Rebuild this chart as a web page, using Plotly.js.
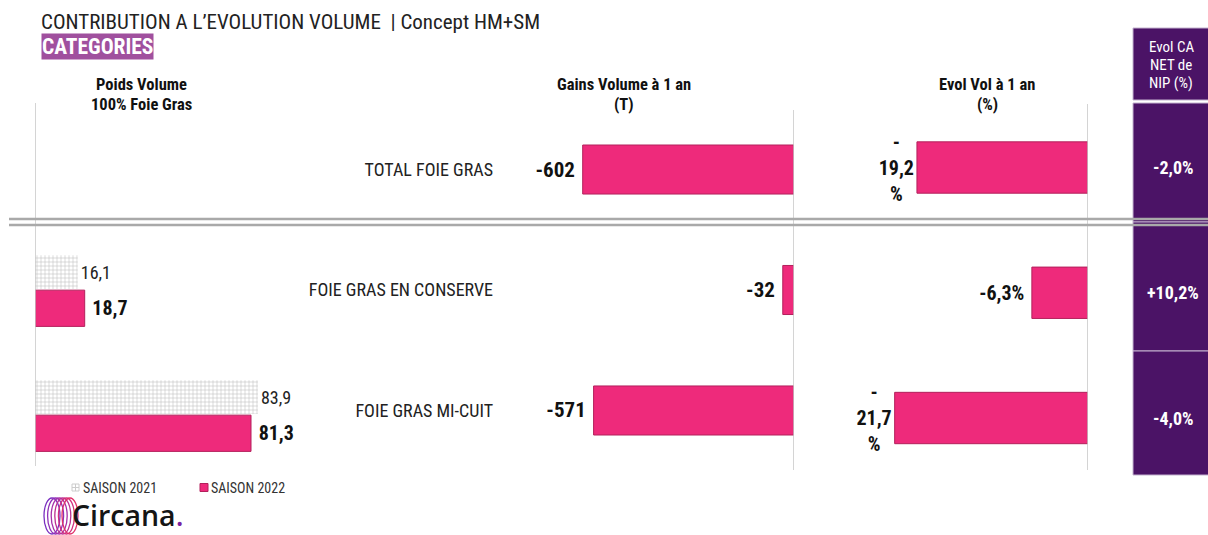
<!DOCTYPE html>
<html>
<head>
<meta charset="utf-8">
<script src="https://cdn.plot.ly/plotly-3.0.1.min.js"></script>
<style>html,body{margin:0;padding:0;background:#fff;}#chart{width:1208px;height:535px;}</style>
</head>
<body>
<div id="chart"></div>
<script>
// ---------- DATA ----------
const categories = ['TOTAL FOIE GRAS', 'FOIE GRAS EN CONSERVE', 'FOIE GRAS MI-CUIT'];
const poidsCategories = ['FOIE GRAS EN CONSERVE', 'FOIE GRAS MI-CUIT'];
const poids2021 = [16.1, 83.9];
const poids2022 = [18.7, 81.3];
const gainsVolume = [-602, -32, -571];
const evolVolume = [-19.2, -6.3, -21.7];
const evolCA = [-2.0, 10.2, -4.0];
const seriesNames = ['SAISON 2021', 'SAISON 2022'];
const headers = [['Poids Volume', '100% Foie Gras'], ['Gains Volume à 1 an', '(T)'], ['Evol Vol à 1 an', '(%)'], ['Evol CA', 'NET de', 'NIP (%)']];
const titleText = 'CONTRIBUTION A L’EVOLUTION VOLUME  | Concept HM+SM';
const subtitleText = 'CATEGORIES';

// ---------- HELPERS ----------
const W = 1208, H = 535;
const px = v => v / W;
const py = v => 1 - v / H;
const FONT = "'Roboto Condensed','Liberation Sans Narrow','DejaVu Sans Condensed',Roboto,sans-serif";
const PINK = '#EE2A7B', PINK_LINE = '#B3205C', PURPLE = '#4B1366';
const NB = '\u00a0';
const fr = (v, d) => v.toFixed(d).replace('.', ',');
const fmtPct = v => {
  const s = fr(v, 1) + '%';
  // narrow PowerPoint label box: long labels wrap onto three lines
  if (s.length > 5) return s.slice(0, 1) + '<br>' + s.slice(1, -1) + '<br>%';
  return s + NB;
};
const fmtSigned = v => (v > 0 ? '+' : '') + fr(v, 1) + '%';

const yDom = [py(470), py(100)];

const traces = [
  {
    type: 'bar', orientation: 'h', name: seriesNames[0],
    x: poids2021, y: poidsCategories, xaxis: 'x', yaxis: 'y',
    offset: -0.275, width: 0.27,
    marker: { color: '#ffffff', line: { width: 0 },
      pattern: { shape: '+', fgcolor: '#bcbcbc', bgcolor: '#ffffff', size: 4, solidity: 0.25 } },
    text: poids2021.map(v => fr(v, 1)), textposition: 'outside', cliponaxis: false, constraintext: 'none',
    textfont: { family: FONT, size: 18, color: '#222' }, hoverinfo: 'skip'
  },
  {
    type: 'bar', orientation: 'h', name: seriesNames[1],
    x: poids2022, y: poidsCategories, xaxis: 'x', yaxis: 'y',
    offset: 0.005, width: 0.29,
    marker: { color: PINK, line: { color: PINK_LINE, width: 1 } },
    text: poids2022.map(v => NB + fr(v, 1)), textposition: 'outside', cliponaxis: false, constraintext: 'none',
    textfont: { family: FONT, size: 20, color: '#111', weight: 'bold' }, hoverinfo: 'skip'
  },
  {
    type: 'bar', orientation: 'h', name: 'Gains',
    x: gainsVolume, y: categories, xaxis: 'x2', yaxis: 'y2',
    width: 0.407,
    marker: { color: PINK, line: { color: PINK_LINE, width: 1 } },
    text: gainsVolume.map(v => String(v) + NB), textposition: 'outside', cliponaxis: false, constraintext: 'none',
    textfont: { family: FONT, size: 21, color: '#111', weight: 'bold' }, hoverinfo: 'skip'
  },
  {
    type: 'bar', orientation: 'h', name: 'Evol',
    x: evolVolume, y: categories, xaxis: 'x3', yaxis: 'y3',
    width: 0.41,
    marker: { color: PINK, line: { color: PINK_LINE, width: 1 } },
    text: evolVolume.map(fmtPct), textposition: 'outside', cliponaxis: false, constraintext: 'none',
    textfont: { family: FONT, size: 20, color: '#111', weight: 'bold' }, hoverinfo: 'skip'
  }
];

const hidden = { visible: false, fixedrange: true };
const catAxis = { type: 'category', categoryorder: 'array', categoryarray: categories, domain: yDom, fixedrange: true };

const shapes = [];
// vertical axis lines
shapes.push({ type: 'line', xref: 'x', yref: 'paper', x0: 0, x1: 0, y0: py(103), y1: py(466), line: { color: '#c6c6c6', width: 1.5 } });
shapes.push({ type: 'line', xref: 'x2', yref: 'paper', x0: 0, x1: 0, y0: py(110), y1: py(470), line: { color: '#c6c6c6', width: 1.5 } });
shapes.push({ type: 'line', xref: 'x3', yref: 'paper', x0: 0, x1: 0, y0: py(104), y1: py(470), line: { color: '#c6c6c6', width: 1.5 } });
// purple column
shapes.push({ type: 'rect', xref: 'paper', yref: 'paper', x0: px(1133), x1: px(1212), y0: py(28), y1: py(100), fillcolor: PURPLE, line: { color: '#c4b3cf', width: 1 }, layer: 'below' });
shapes.push({ type: 'rect', xref: 'paper', yref: 'paper', x0: px(1133), x1: px(1212), y0: py(103), y1: py(222), fillcolor: PURPLE, line: { color: '#c4b3cf', width: 1 }, layer: 'below' });
shapes.push({ type: 'rect', xref: 'paper', yref: 'paper', x0: px(1133), x1: px(1212), y0: py(222), y1: py(351), fillcolor: PURPLE, line: { color: '#c4b3cf', width: 1 }, layer: 'below' });
shapes.push({ type: 'rect', xref: 'paper', yref: 'paper', x0: px(1133), x1: px(1212), y0: py(351), y1: py(475), fillcolor: PURPLE, line: { color: '#c4b3cf', width: 1 }, layer: 'below' });
// double separator
[219, 225].forEach(yy => shapes.push({ type: 'line', xref: 'paper', yref: 'paper', x0: px(9), x1: px(1210), y0: py(yy), y1: py(yy), line: { color: '#a9a9a9', width: 2.5 } }));
// legend icons
shapes.push({ type: 'rect', xref: 'paper', yref: 'paper', x0: px(72), x1: px(79), y0: py(484), y1: py(491), fillcolor: '#ffffff', line: { color: '#cccccc', width: 1 } });
shapes.push({ type: 'line', xref: 'paper', yref: 'paper', x0: px(75.5), x1: px(75.5), y0: py(484), y1: py(491), line: { color: '#cccccc', width: 1 } });
shapes.push({ type: 'line', xref: 'paper', yref: 'paper', x0: px(72), x1: px(79), y0: py(487.5), y1: py(487.5), line: { color: '#cccccc', width: 1 } });
shapes.push({ type: 'rect', xref: 'paper', yref: 'paper', x0: px(200), x1: px(208), y0: py(483.5), y1: py(491.5), fillcolor: PINK, line: { color: PINK_LINE, width: 1 } });
// logo rings
const ringColors = ['#7a2fc0', '#8f30b8', '#a630a8', '#bd3092', '#d2307c', '#e0306a'];
ringColors.forEach((c, i) => shapes.push({ type: 'circle', xref: 'paper', yref: 'paper',
  x0: px(44 + i * 3.6), x1: px(60 + i * 3.6), y0: py(498), y1: py(534), line: { color: c, width: 1.3 }, fillcolor: 'rgba(0,0,0,0)' }));

const ann = [];
ann.push({ xref: 'paper', yref: 'paper', x: px(39), y: py(22), xanchor: 'left', yanchor: 'middle', showarrow: false,
  text: titleText, font: { family: FONT, size: 21, color: '#222' } });
ann.push({ xref: 'paper', yref: 'paper', x: px(41), y: py(47), xanchor: 'left', yanchor: 'middle', showarrow: false,
  text: subtitleText, bgcolor: '#A0509E', borderpad: 0, font: { family: FONT, size: 21.5, color: '#ffffff', weight: 'bold' } });
const headerPos = [[141, 84.5], [624, 84.5], [987, 84.5]];
headerPos.forEach((p, i) => headers[i].forEach((line, j) => ann.push({ xref: 'paper', yref: 'paper', x: px(p[0]), y: py(p[1] + j * 19.5), xanchor: 'center', yanchor: 'middle', showarrow: false,
  borderpad: 0, text: line, font: { family: FONT, size: 16.5, color: '#111', weight: 'bold' } })));
headers[3].forEach((line, j) => ann.push({ xref: 'paper', yref: 'paper', x: px(1171), y: py(46.5 + j * 18.5), xanchor: 'center', yanchor: 'middle', showarrow: false,
  borderpad: 0, text: line, font: { family: FONT, size: 15, color: '#ffffff' } }));
// Evol CA values in the purple column (aligned on the Evol Vol axis rows)
evolCA.forEach((v, i) => ann.push({ xref: 'paper', yref: 'y3', x: px(1173), y: categories[i], xanchor: 'center', yanchor: 'middle', showarrow: false,
  text: fmtSigned(v), font: { family: FONT, size: 18, color: '#ffffff', weight: 'bold' } }));
// legend text
ann.push({ xref: 'paper', yref: 'paper', x: px(81), y: py(487.5), xanchor: 'left', yanchor: 'middle', showarrow: false,
  text: seriesNames[0], font: { family: FONT, size: 14, color: '#333' } });
ann.push({ xref: 'paper', yref: 'paper', x: px(209), y: py(487.5), xanchor: 'left', yanchor: 'middle', showarrow: false,
  text: seriesNames[1], font: { family: FONT, size: 14, color: '#333' } });
// logo text
ann.push({ xref: 'paper', yref: 'paper', x: px(71), y: py(535), xanchor: 'left', yanchor: 'bottom', showarrow: false, borderpad: 0,
  text: 'Circana<span style="color:#7b1fa2">.</span>', font: { family: "'Open Sans', sans-serif", size: 28.5, color: '#151515', weight: 600 } });

const layout = {
  width: W, height: H, margin: { l: 0, r: 0, t: 0, b: 0 },
  paper_bgcolor: '#ffffff', plot_bgcolor: 'rgba(0,0,0,0)',
  showlegend: false, barmode: 'overlay',
  font: { family: FONT },
  xaxis: Object.assign({}, hidden, { domain: [px(35), px(300.7)], range: [0, 100], anchor: 'y' }),
  yaxis: Object.assign({}, catAxis, { range: [2.444, -0.516], visible: false, anchor: 'x' }),
  xaxis2: Object.assign({}, hidden, { domain: [px(500), px(794)], range: [-837.6, 0], anchor: 'y2' }),
  yaxis2: Object.assign({}, catAxis, { range: [2.494, -0.577], anchor: 'x2', showline: false, showgrid: false, zeroline: false,
    ticks: '', ticklabelstandoff: 6, tickfont: { family: FONT, size: 18, color: '#222' } }),
  xaxis3: Object.assign({}, hidden, { domain: [px(820), px(1088)], range: [-30.08, 0], anchor: 'y3' }),
  yaxis3: Object.assign({}, catAxis, { range: [2.415, -0.539], visible: false, anchor: 'x3' }),
  shapes: shapes, annotations: ann
};

Plotly.newPlot('chart', traces, layout, { staticPlot: true, displayModeBar: false });
</script>
</body>
</html>
